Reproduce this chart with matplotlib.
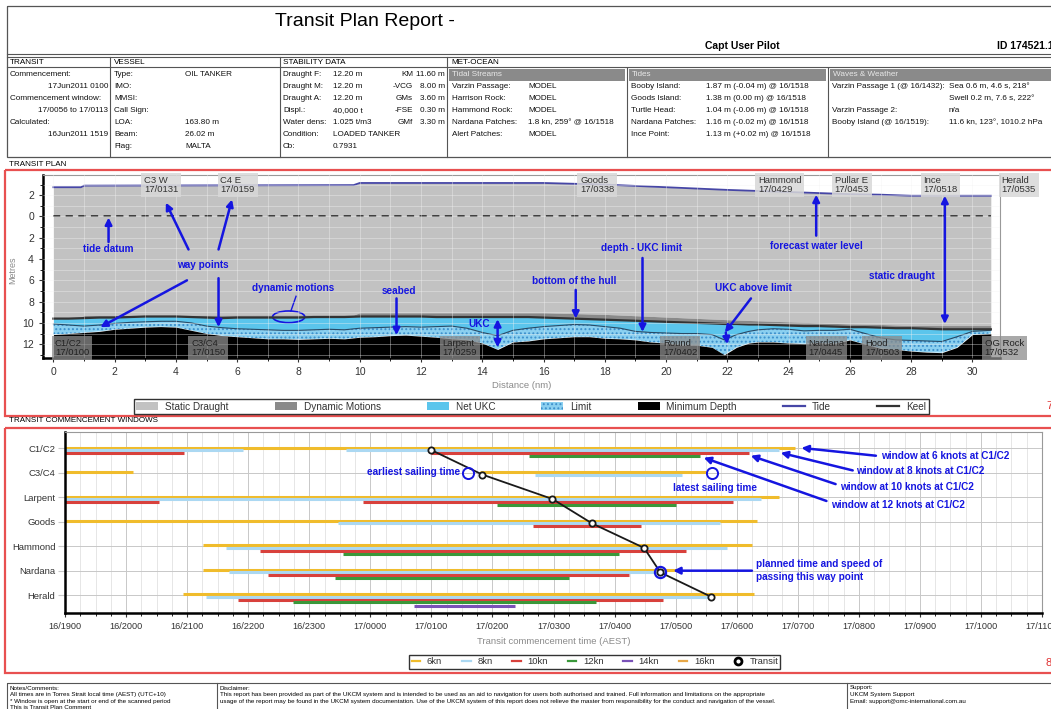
import numpy as np
import matplotlib
matplotlib.use("Agg")
import matplotlib.pyplot as plt
from matplotlib.patches import Rectangle, Ellipse, Patch
from matplotlib.lines import Line2D

plt.rcParams['font.family'] = ['Liberation Sans', 'DejaVu Sans']
plt.rcParams['hatch.linewidth'] = 0.9

W, H = 1051, 709
BLUE = '#1515E0'

# ---------------- transit plan data (distance nm, metres below datum) -------------
tide_nm = [0, 0.9, 1.0, 9.8, 10.0, 12.6, 16, 18, 20, 22, 24, 25, 26, 27, 28, 30.6]
tide_m = [-2.75, -2.75, -2.9, -2.95, -3.15, -3.15, -3.15, -3.0, -2.75, -2.5, -2.3, -2.2, -2.1, -2.05, -1.95, -1.95]
static_draught = 12.20

profile_nm = [0, 0.5, 1, 1.5, 2, 2.5, 3, 3.5, 4, 4.5, 5, 5.5, 6, 6.5, 7, 7.5, 8, 8.5, 9, 9.5,
              10, 10.5, 11, 11.5, 12, 12.5, 13, 13.5, 14, 14.5, 15, 15.5, 16, 16.5, 17, 17.5,
              18, 18.5, 19, 19.5, 20, 20.5, 21, 21.5, 21.9, 22.3, 22.7, 23, 23.5, 24, 24.5,
              25, 25.5, 26, 26.5, 27, 27.5, 28, 28.5, 29, 29.5, 30, 30.6]
keel_m = [9.6, 9.6, 9.55, 9.5, 9.5, 9.45, 9.4, 9.4, 9.4, 9.45, 9.5, 9.55, 9.5, 9.5, 9.5, 9.5,
          9.5, 9.45, 9.45, 9.45, 9.4, 9.4, 9.4, 9.4, 9.4, 9.45, 9.45, 9.45, 9.45, 9.45, 9.45,
          9.45, 9.5, 9.55, 9.6, 9.65, 9.7, 9.75, 9.8, 9.85, 9.9, 9.95, 10.0, 10.05, 10.1, 10.1,
          10.15, 10.15, 10.2, 10.25, 10.3, 10.3, 10.35, 10.4, 10.4, 10.45, 10.5, 10.5, 10.55,
          10.6, 10.6, 10.6, 10.6]
limit_m = [10.1, 10.2, 10.3, 10.2, 10.05, 9.95, 9.9, 9.85, 9.85, 10.0, 10.3, 10.45, 10.55, 10.6,
           10.65, 10.7, 10.7, 10.65, 10.6, 10.65, 10.5, 10.45, 10.4, 10.35, 10.4, 10.35, 10.3,
           10.5, 10.9, 11.2, 10.7, 10.5, 10.35, 10.25, 10.15, 10.2, 10.35, 10.5, 10.8, 10.9,
           10.95, 11.0, 11.0, 11.1, 11.6, 11.1, 10.8, 10.65, 10.55, 10.6, 10.75, 10.7, 10.7,
           10.6, 11.0, 11.4, 11.6, 11.65, 11.7, 11.75, 11.3, 10.8, 10.7]
seabed_m = [11.1, 11.0, 10.9, 10.8, 10.6, 10.5, 10.4, 10.35, 10.4, 10.7, 11.0, 11.2, 11.3, 11.4,
            11.5, 11.5, 11.55, 11.5, 11.45, 11.5, 11.35, 11.3, 11.2, 11.15, 11.25, 11.35, 11.5,
            11.6, 11.9, 12.5, 11.8, 11.7, 11.5, 11.4, 11.3, 11.3, 11.45, 11.5, 11.6, 11.8, 11.9,
            12.1, 12.1, 12.3, 13.0, 12.3, 11.9, 11.8, 11.8, 11.9, 11.95, 11.9, 11.95, 11.6, 12.0,
            12.4, 12.5, 12.65, 12.75, 12.8, 12.3, 11.1, 11.0]

top_points = ["C3 W\n17/0131", "C4 E\n17/0159", "Goods\n17/0338", "Hammond\n17/0429",
              "Pullar E\n17/0453", "Ince\n17/0518", "Herald\n17/0535"]
top_points_nm = [2.95, 5.45, 17.2, 23.0, 25.5, 28.4, 30.95]
bottom_points = ["C1/C2\n17/0100", "C3/C4\n17/0150", "Larpent\n17/0259", "Round\n17/0402",
                 "Nardana\n17/0445", "Hood\n17/0503", "OG Rock\n17/0532"]
bottom_points_nm = [0.05, 4.5, 12.7, 19.9, 24.65, 26.5, 30.4]
depth_ticks = [-2, 0, 2, 4, 6, 8, 10, 12]
depth_labels = ["2", "0", "2", "4", "6", "8", "10", "12"]

# ---------------- commencement windows data ----------------
waypoints = ["C1/C2", "C3/C4", "Larpent", "Goods", "Hammond", "Nardana", "Herald"]
time_ticks = ["16/1900", "16/2000", "16/2100", "16/2200", "16/2300", "17/0000", "17/0100",
              "17/0200", "17/0300", "17/0400", "17/0500", "17/0600", "17/0700", "17/0800",
              "17/0900", "17/1000", "17/1100"]
win_6kn = [("C1/C2", "16/1900", "17/0657"), ("C3/C4", "16/1900", "16/2007"),
           ("C3/C4", "17/0148", "17/0530"), ("Larpent", "16/1900", "17/0642"),
           ("Goods", "16/1900", "17/0620"), ("Hammond", "16/2116", "17/0615"),
           ("Nardana", "16/2116", "17/0503"), ("Herald", "16/2056", "17/0617")]
win_8kn = [("C1/C2", "16/1900", "16/2155"), ("C1/C2", "16/2336", "17/0642"),
           ("C3/C4", "17/0242", "17/0506"), ("Larpent", "16/1900", "17/0624"),
           ("Goods", "16/2328", "17/0544"), ("Hammond", "16/2138", "17/0550"),
           ("Nardana", "16/2141", "17/0451"), ("Herald", "16/2119", "17/0536")]
win_10kn = [("C1/C2", "16/1900", "16/2057"), ("C1/C2", "17/0100", "17/0612"),
            ("Larpent", "16/1900", "16/2032"), ("Larpent", "16/2353", "17/0556"),
            ("Goods", "17/0240", "17/0426"), ("Hammond", "16/2212", "17/0510"),
            ("Nardana", "16/2219", "17/0414"), ("Herald", "16/2150", "17/0448")]
win_12kn = [("C1/C2", "17/0236", "17/0524"), ("Larpent", "17/0204", "17/0500"),
            ("Hammond", "16/2333", "17/0404"), ("Nardana", "16/2325", "17/0315"),
            ("Herald", "16/2244", "17/0342")]
win_14kn = [("Herald", "17/0043", "17/0222")]
win_16kn = []
transit_times = ["17/0100", "17/0150", "17/0259", "17/0338", "17/0429", "17/0445", "17/0535"]


def hrs(s):
    d, hm = s.split('/')
    return (int(d) - 16) * 24 + int(hm[:2]) + int(hm[2:]) / 60 - 19


fig = plt.figure(figsize=(W / 100, H / 100), dpi=100)

# ---------------- page furniture (pixel coords) ----------------
bg = fig.add_axes([0, 0, 1, 1])
bg.set_xlim(0, W)
bg.set_ylim(H, 0)
bg.axis('off')

def box(x0, y0, x1, y1, **kw):
    bg.add_patch(Rectangle((x0, y0), x1 - x0, y1 - y0, **kw))

def line(x0, y0, x1, y1, c='#555', lw=0.8):
    bg.plot([x0, x1], [y0, y1], color=c, lw=lw)

box(7, 6, 1065, 157, fill=False, ec='#555', lw=0.9)
line(7, 54, 1051, 54)
line(7, 57, 1051, 57)
line(7, 67, 1051, 67)
for xv in (110, 280, 447):
    line(xv, 57, xv, 157)
for xv in (627, 828):
    line(xv, 68, xv, 157)
bg.text(275, 22, "Transit Plan Report -", fontsize=14, va='center', ha='left')
bg.text(705, 46, "Capt User Pilot", fontsize=7.5, weight='bold', va='center')
bg.text(997, 46, "ID 174521.1", fontsize=7.5, weight='bold', va='center')

fs = 5.9
for xh, t in ((10, "TRANSIT"), (114, "VESSEL"), (283, "STABILITY DATA"), (451, "MET-OCEAN")):
    bg.text(xh, 62, t, fontsize=fs, va='center')

rows_y = [75 + 12 * i for i in range(7)]

def cell(x, r, t, ha='left', c='#111'):
    bg.text(x, rows_y[r], t, fontsize=fs, va='center', ha=ha, color=c)

for r, t in enumerate(["Commencement:", None, "Commencement window:", None, "Calculated:"]):
    if t:
        cell(10, r, t)
cell(108, 1, "17Jun2011 0100", 'right')
cell(108, 3, "17/0056 to 17/0113", 'right')
cell(108, 5, "16Jun2011 1519", 'right')

for r, (a, b) in enumerate([("Type:", "OIL TANKER"), ("IMO:", ""), ("MMSI:", ""), ("Call Sign:", ""),
                            ("LOA:", "163.80 m"), ("Beam:", "26.02 m"), ("Flag:", "MALTA")]):
    cell(114, r, a)
    cell(185, r, b)

for r, (a, b) in enumerate([("Draught F:", "12.20 m"), ("Draught M:", "12.20 m"),
                            ("Draught A:", "12.20 m"), ("Displ.:", "40,000 t"),
                            ("Water dens:", "1.025 t/m3"), ("Condition:", "LOADED TANKER"),
                            ("Cb:", "0.7931")]):
    cell(283, r, a)
    cell(333, r, b)
for r, (a, b) in enumerate([("KM", "11.60 m"), ("-VCG", "8.00 m"), ("GMs", "3.60 m"),
                            ("-FSE", "0.30 m"), ("GMf", "3.30 m")]):
    cell(413, r, a, 'right')
    cell(445, r, b, 'right')

for x0, x1, t in ((449, 625, "Tidal Streams"), (629, 826, "Tides"), (830, 1060, "Waves & Weather")):
    box(x0, 69, x1, 81, color='#8A8A8A', lw=0)
    bg.text(x0 + 3, 75, t, fontsize=fs, va='center', color='#E8E8E8')
for r, (a, b) in enumerate([("Varzin Passage:", "MODEL"), ("Harrison Rock:", "MODEL"),
                            ("Hammond Rock:", "MODEL"), ("Nardana Patches:", "1.8 kn, 259° @ 16/1518"),
                            ("Alert Patches:", "MODEL")], start=1):
    cell(452, r, a)
    cell(528, r, b)
for r, (a, b) in enumerate([("Booby Island:", "1.87 m (-0.04 m) @ 16/1518"),
                            ("Goods Island:", "1.38 m (0.00 m) @ 16/1518"),
                            ("Turtle Head:", "1.04 m (-0.06 m) @ 16/1518"),
                            ("Nardana Patches:", "1.16 m (-0.02 m) @ 16/1518"),
                            ("Ince Point:", "1.13 m (+0.02 m) @ 16/1518")], start=1):
    cell(631, r, a)
    cell(706, r, b)
cell(832, 1, "Varzin Passage 1 (@ 16/1432):")
cell(949, 1, "Sea 0.6 m, 4.6 s, 218°")
cell(949, 2, "Swell 0.2 m, 7.6 s, 222°")
cell(832, 3, "Varzin Passage 2:")
cell(949, 3, "n/a")
cell(832, 4, "Booby Island (@ 16/1519):")
cell(949, 4, "11.6 kn, 123°, 1010.2 hPa")

bg.text(9, 164, "TRANSIT PLAN", fontsize=5.8, va='center')
bg.text(9, 421, "TRANSIT COMMENCEMENT WINDOWS", fontsize=5.8, va='center')
box(5, 170, 1065, 416, fill=False, ec='#E85050', lw=1.6)
box(5, 428, 1065, 673, fill=False, ec='#E85050', lw=1.6)
bg.text(1046, 406, "7", color='#E03030', fontsize=8, va='center')
bg.text(1046, 663, "8", color='#E03030', fontsize=8, va='center')
bg.text(13, 270, "Metres", fontsize=6.5, color='#8A8A8A', rotation=90, ha='center', va='center')

# footer
box(7, 683, 1065, 715, fill=False, ec='#555', lw=0.8)
line(217, 683, 217, 709)
line(847, 683, 847, 709)
ffs = 4.5
bg.text(10, 688, "Notes/Comments:", fontsize=ffs, va='center')
bg.text(10, 694.5, "All times are in Torres Strait local time (AEST) (UTC+10)", fontsize=ffs, va='center')
bg.text(10, 701, "* Window is open at the start or end of the scanned period", fontsize=ffs, va='center')
bg.text(10, 707.5, "This is Transit Plan Comment", fontsize=ffs, va='center')
bg.text(220, 688, "Disclaimer:", fontsize=ffs, va='center')
bg.text(220, 694.5, "This report has been provided as part of the UKCM system and is intended to be used as an aid "
        "to navigation for users both authorised and trained. Full information and limitations on the appropriate",
        fontsize=ffs, va='center')
bg.text(220, 701, "usage of the report may be found in the UKCM system documentation. Use of the UKCM system of this "
        "report does not relieve the master from responsibility for the conduct and navigation of the vessel.",
        fontsize=ffs, va='center')
bg.text(850, 688, "Support:", fontsize=ffs, va='center')
bg.text(850, 694.5, "UKCM System Support", fontsize=ffs, va='center')
bg.text(850, 701, "Email: support@omc-international.com.au", fontsize=ffs, va='center')

# ---------------- transit plan chart ----------------
ax1 = fig.add_axes([43 / W, 1 - 358 / H, 957 / W, 183 / H])
y_bot, y_top = 13.3, -3.9
ax1.set_xlim(-0.34, 30.9)
ax1.set_ylim(y_bot, y_top)

x_all = np.union1d(tide_nm, profile_nm)
tide_all = np.interp(x_all, tide_nm, tide_m)
keel_all = np.interp(x_all, profile_nm, keel_m)
static_bot = np.minimum(tide_all + static_draught, keel_all)
ax1.fill_between(x_all, tide_all, static_bot, color='#C2C2C2', lw=0)
ax1.fill_between(x_all, static_bot, keel_all, color='#8A8A8A', lw=0)
ax1.fill_between(profile_nm, keel_m, limit_m, color='#5BC5EC', lw=0)
ax1.fill_between(profile_nm, limit_m, seabed_m, facecolor='#8BD0F0', edgecolor='#3C8FCB',
                 hatch='....', lw=0)
ax1.fill_between(profile_nm, seabed_m, y_bot, color='black', lw=0)
ax1.plot(profile_nm, limit_m, color='#284A66', lw=0.8)
ax1.plot(x_all, keel_all, color='#333333', lw=1.6)
ax1.plot(tide_nm, tide_m, color='#4646A6', lw=1.3)
ax1.hlines(0, 0, max(tide_nm), colors='#333333', linestyles=(0, (4, 3)), lw=1.3)

ax1.set_xticks(range(0, 31, 2))
ax1.set_xticks(range(0, 31), minor=True)
ax1.set_yticks(depth_ticks)
ax1.set_yticklabels(depth_labels)
ax1.set_yticks(range(-3, 14), minor=True)
ax1.grid(which='both', color='#F2F2F2', lw=0.6, alpha=0.45)
ax1.set_axisbelow(False)
ax1.tick_params(labelsize=7.5, colors='#333333', length=3)
ax1.tick_params(which='minor', length=2)
for s in ('left', 'bottom'):
    ax1.spines[s].set_linewidth(1.8)
for s in ('top', 'right'):
    ax1.spines[s].set_color('#999999')
    ax1.spines[s].set_linewidth(0.8)
ax1.set_xlabel("Distance (nm)", fontsize=6.8, color='#8A8A8A', labelpad=3)

for t, xv in zip(top_points, top_points_nm):
    ax1.text(xv, y_top + 0.1, t, fontsize=6.8, color='#333333', va='top', ha='left',
             linespacing=1.05, clip_on=False,
             bbox=dict(boxstyle='square,pad=0.3', fc='#D8D8D8', ec='none', alpha=0.85))
for t, xv in zip(bottom_points, bottom_points_nm):
    ax1.text(xv, y_bot - 0.1, t, fontsize=6.8, color='#222222', va='bottom', ha='left',
             linespacing=1.05, clip_on=False,
             bbox=dict(boxstyle='square,pad=0.3', fc='#8C8C8C', ec='none', alpha=0.75))

arw = dict(arrowstyle='-|>', color=BLUE, lw=1.8, mutation_scale=10, shrinkA=0, shrinkB=0)
dbl = dict(arrowstyle='<|-|>', color=BLUE, lw=1.8, mutation_scale=10, shrinkA=0, shrinkB=0)
tk = dict(color=BLUE, fontsize=7.2, weight='bold', ha='center', va='center')

def arrow(ax, tail, head, style=arw):
    ax.annotate('', xy=head, xytext=tail, arrowprops=style)

ax1.text(1.8, 3.1, "tide datum", **tk)
arrow(ax1, (1.8, 2.4), (1.8, 0.1))
ax1.text(4.88, 4.55, "way points", **tk)
arrow(ax1, (4.41, 3.1), (3.67, -1.3))
arrow(ax1, (5.39, 3.1), (5.83, -1.6))
arrow(ax1, (4.36, 6.0), (1.53, 10.4))
arrow(ax1, (5.39, 5.8), (5.39, 10.4))
ax1.text(7.84, 6.75, "dynamic motions", **tk)
ax1.add_patch(Ellipse((7.68, 9.43), 1.05, 1.1, fill=False, ec=BLUE, lw=1.2))
ax1.plot([7.75, 7.92], [8.9, 7.5], color=BLUE, lw=1.0)
ax1.text(11.27, 6.98, "seabed", **tk)
arrow(ax1, (11.2, 7.7), (11.2, 11.15))
ax1.text(13.9, 10.1, "UKC", **tk)
arrow(ax1, (14.5, 9.65), (14.5, 12.3), dbl)
ax1.text(17.0, 6.03, "bottom of the hull", **tk)
arrow(ax1, (17.05, 6.9), (17.05, 9.6))
ax1.text(19.2, 3.0, "depth - UKC limit", **tk)
arrow(ax1, (19.23, 3.9), (19.23, 10.85))
ax1.text(22.85, 6.7, "UKC above limit", **tk)
arrow(ax1, (22.77, 7.7), (21.92, 10.9))
arrow(ax1, (21.95, 10.9), (22.0, 12.0))
ax1.text(24.9, 2.77, "forecast water level", **tk)
arrow(ax1, (24.9, 1.8), (24.9, -2.05))
ax1.text(27.7, 5.6, "static draught", **tk)
arrow(ax1, (29.1, -1.95), (29.1, 10.1), dbl)

leg1 = [Patch(fc='#C2C2C2', ec='none', label='Static Draught'),
        Patch(fc='#8A8A8A', ec='none', label='Dynamic Motions'),
        Patch(fc='#5BC5EC', ec='none', label='Net UKC'),
        Patch(fc='#8BD0F0', ec='#3C8FCB', hatch='....', lw=0, label='Limit'),
        Patch(fc='black', ec='none', label='Minimum Depth'),
        Line2D([], [], color='#4646A6', lw=1.6, label='Tide'),
        Line2D([], [], color='#333333', lw=1.6, label='Keel')]
fig.legend(handles=leg1, loc='center', bbox_to_anchor=(531 / W, 1 - 406.5 / H), ncol=7,
           fontsize=7.2, frameon=True, fancybox=False, edgecolor='#333333', framealpha=1,
           handlelength=2.2, handleheight=0.9, columnspacing=4.6, borderpad=0.25,
           handletextpad=0.7, labelcolor='#333333')

# ---------------- transit commencement windows ----------------
ax2 = fig.add_axes([65 / W, 1 - 613 / H, 977 / W, 181 / H])
ax2.set_xlim(0, 16)
ax2.set_ylim(6.73, -0.67)
row = {w: i for i, w in enumerate(waypoints)}

speed_sets = [(win_6kn, '#F0BC2C', -0.03, '6kn'), (win_8kn, '#ABD8F2', 0.07, '8kn'),
              (win_10kn, '#D8413C', 0.18, '10kn'), (win_12kn, '#3A983A', 0.30, '12kn'),
              (win_14kn, '#7A52B8', 0.45, '14kn'), (win_16kn, '#E8A848', 0.55, '16kn')]
for wins, col, off, lab in speed_sets:
    for wp, t0, t1 in wins:
        ax2.hlines(row[wp] + off, hrs(t0), hrs(t1), colors=col, lw=2.2)

tx = [hrs(t) for t in transit_times]
ty = [row[w] + 0.07 for w in waypoints]
ax2.plot(tx, ty, '-o', color='#1A1A1A', mfc='white', mec='#1A1A1A', ms=4.5, mew=1.3, lw=1.3)

ax2.set_xticks([hrs(t) for t in time_ticks])
ax2.set_xticklabels(time_ticks)
ax2.set_xticks(np.arange(0, 16.01, 0.25), minor=True)
ax2.set_yticks(range(len(waypoints)))
ax2.set_yticklabels(waypoints)
ax2.grid(which='major', color='#C8C8C8', lw=0.7)
ax2.grid(which='minor', axis='x', color='#E2E2E2', lw=0.6)
ax2.set_axisbelow(True)
ax2.tick_params(labelsize=6.6, colors='#333333', length=3)
ax2.tick_params(axis='y', length=5, color='#C8C8C8', labelsize=6.8, pad=2)
ax2.tick_params(which='minor', length=2)
for s in ('left', 'bottom'):
    ax2.spines[s].set_linewidth(1.8)
for s in ('top', 'right'):
    ax2.spines[s].set_color('#999999')
    ax2.spines[s].set_linewidth(0.8)
ax2.set_xlabel("Transit commencement time (AEST)", fontsize=6.8, color='#8A8A8A', labelpad=4)

tk2 = dict(color=BLUE, fontsize=7.2, weight='bold', va='center')
ax2.text(6.47, 0.98, "earliest sailing time", ha='right', **tk2)
ax2.plot(6.6, 1.0, 'o', mfc='none', mec=BLUE, ms=8, mew=1.4)
ax2.text(10.64, 1.6, "latest sailing time", ha='center', **tk2)
ax2.plot(10.6, 1.0, 'o', mfc='none', mec=BLUE, ms=8, mew=1.4)
ax2.plot(hrs("17/0445"), 5.07, 'o', mfc='none', mec=BLUE, ms=8, mew=1.6)
ax2.text(11.31, 5.0, "planned time and speed of\npassing this way point", ha='left', linespacing=1.3, **tk2)
arrow(ax2, (11.25, 5.0), (9.96, 5.0))
ax2.text(13.37, 0.3, "window at 6 knots at C1/C2", ha='left', **tk2)
arrow(ax2, (13.28, 0.3), (12.06, -0.02))
ax2.text(12.95, 0.93, "window at 8 knots at C1/C2", ha='left', **tk2)
arrow(ax2, (12.9, 0.9), (11.72, 0.18))
ax2.text(12.69, 1.57, "window at 10 knots at C1/C2", ha='left', **tk2)
arrow(ax2, (12.62, 1.46), (11.23, 0.3))
ax2.text(12.54, 2.31, "window at 12 knots at C1/C2", ha='left', **tk2)
arrow(ax2, (12.47, 2.15), (10.46, 0.38))

leg2 = [Line2D([], [], color=c, lw=1.6, label=l) for _, c, _, l in speed_sets]
leg2.append(Line2D([], [], marker='o', ls='none', mfc='white', mec='black', mew=2, ms=5, label='Transit'))
fig.legend(handles=leg2, loc='center', bbox_to_anchor=(595 / W, 1 - 662 / H), ncol=7,
           fontsize=6.8, frameon=True, fancybox=False, edgecolor='#333333', framealpha=1,
           handlelength=0.9, columnspacing=2.1, borderpad=0.25, handletextpad=0.7,
           labelcolor='#333333')

fig.savefig("out.png", dpi=100)
